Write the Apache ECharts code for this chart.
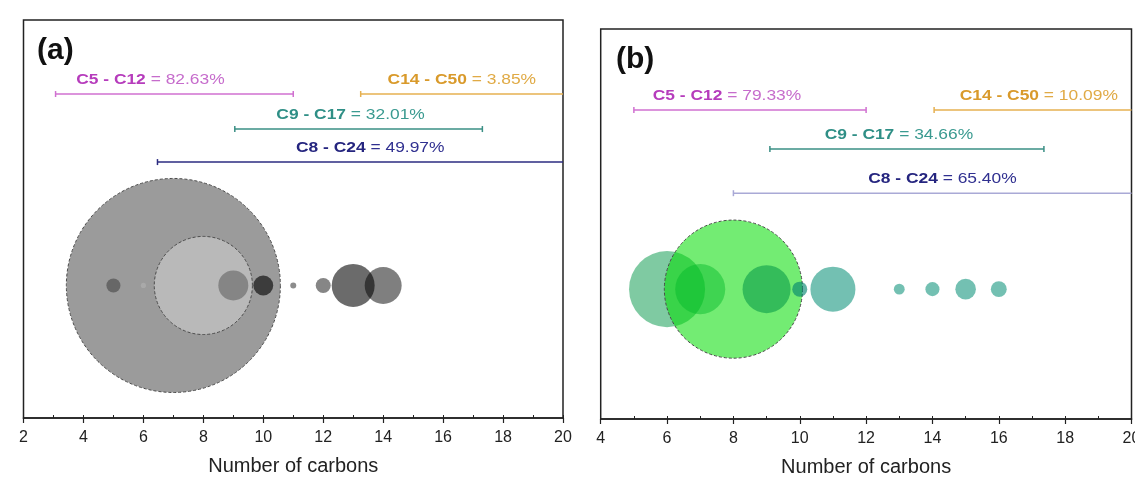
<!DOCTYPE html>
<html><head><meta charset="utf-8">
<script src="https://cdn.jsdelivr.net/npm/echarts@6/dist/echarts.min.js"></script>
<style>html,body{margin:0;padding:0;background:#fff;overflow:hidden}#c{width:1135px;height:479px}</style>
</head><body><div id="c"></div>
<script>
// ---------- DATA ----------
// Panel (a): bubble positions (carbon number) and bubble values (area-proportional)
const carbonsA = [5, 6, 7, 8, 9, 10, 11, 12, 13, 14];
const valuesA  = [0.22, 0.03, 50.9, 10.7, 1.00, 0.44, 0.04, 0.25, 2.05, 1.52];
// Panel (b)
const carbonsB = [6, 7, 8, 9, 10, 11, 13, 14, 15, 16];
const valuesB  = [6.42, 2.78, 21.2, 2.56, 0.25, 2.25, 0.13, 0.22, 0.47, 0.28];

// Carbon-range bars
const rangeNames  = ['C5 - C12', 'C14 - C50', 'C9 - C17', 'C8 - C24'];
const rangePctA   = ['82.63%', '3.85%', '32.01%', '49.97%'];
const rangeStartA = [3.07, 13.25, 9.05, 6.47];
const rangeEndA   = [11, 50, 17.31, 24];
const rangePctB   = ['79.33%', '10.09%', '34.66%', '65.40%'];
const rangeStartB = [5, 14.05, 9.1, 8];
const rangeEndB   = [12, 50, 17.36, 24];

// Tick labels
const ticksA = [2, 4, 6, 8, 10, 12, 14, 16, 18, 20];
const ticksB = [4, 6, 8, 10, 12, 14, 16, 18, 20];

// ---------- STYLES / LAYOUT ----------
const colorsA = ['#676767', '#a9a9a9', '#9b9b9b', '#b9b9b9', '#858585', '#3c3c3c', '#8c8c8c', '#868686', 'rgba(0,0,0,0.58)', 'rgba(0,0,0,0.5)'];
const layerA  = [2, 2, 0, 1, 2, 2, 2, 2, 2, 2];
const outlineA = [false, false, true, true, false, false, false, false, false, false];
const colorsB = ['rgba(0,150,70,0.5)', 'rgba(0,185,40,0.45)', 'rgba(0,220,0,0.55)', 'rgba(0,150,70,0.55)',
                 'rgba(0,130,110,0.62)', 'rgba(0,140,115,0.55)', 'rgba(0,140,115,0.55)', 'rgba(0,140,115,0.55)',
                 'rgba(0,140,115,0.55)', 'rgba(0,140,115,0.55)'];
const layerB  = [0, 2, 1, 2, 2, 2, 2, 2, 2, 2];
const outlineB = [false, false, true, false, false, false, false, false, false, false];

const BUBBLE_Y = 33.3;
const SIZE_K = 30;
const FONT = "'Liberation Sans', Arial, sans-serif";

const rangeStyle = [
  {bold: '#b63cbc', normal: '#c66ccc', line: '#d070d0'},
  {bold: '#d99a2b', normal: '#e0aa45', line: '#e6b050'},
  {bold: '#2f8f86', normal: '#3a9a90', line: '#3a8f85'},
  {bold: '#25257f', normal: '#303090', line: '#2b2b80'}
];
const lineColorB = ['#d070d0', '#e6b050', '#3a8f85', '#a9a9d6'];
const levelsA = [81.4, 81.4, 72.6, 64.3];
const levelsB = [79.2, 79.2, 69.2, 57.9];
const labelDxA = [-24, 0, -8, 10];
const labelDxB = [-23, 6, -8, 10];

// ---------- BUILD ----------
function bubbleSeries(gi, carbons, values, colors, layers, outline) {
  const out = [];
  const ls = Array.from(new Set(layers)).sort((a, b) => a - b);
  ls.forEach(L => {
    const data = [];
    carbons.forEach((c, i) => {
      if (layers[i] !== L) return;
      data.push({
        value: [c, BUBBLE_Y, values[i]],
        itemStyle: outline[i]
          ? {color: colors[i], opacity: 1, borderColor: '#4a4a4a', borderWidth: 1, borderType: [3, 2]}
          : {color: colors[i], opacity: 1, borderWidth: 0}
      });
    });
    out.push({
      type: 'scatter', xAxisIndex: gi * 2, yAxisIndex: gi, z: 2 + L,
      symbolSize: v => SIZE_K * Math.sqrt(v[2]),
      itemStyle: {opacity: 1},
      data, silent: true, animation: false
    });
  });
  return out;
}

function rangeSeries(gi, starts, ends, pcts, levels, dxs, lineColors, xMax) {
  const data = starts.map((s, i) => [s, ends[i], levels[i], i]);
  return {
    type: 'custom', xAxisIndex: gi * 2, yAxisIndex: gi, z: 10, animation: false, silent: true,
    data,
    renderItem: (params, api) => {
      const i = api.value(3);
      const y = api.value(2);
      const s = api.value(0), e = api.value(1);
      const p0 = api.coord([s, y]);
      const p1 = api.coord([Math.min(e, xMax), y]);
      const st = rangeStyle[i];
      const lc = lineColors[i];
      const children = [
        {type: 'line', shape: {x1: p0[0], y1: p0[1], x2: p1[0], y2: p1[1]}, style: {stroke: lc, lineWidth: 1.5}},
        {type: 'line', shape: {x1: p0[0], y1: p0[1] - 3, x2: p0[0], y2: p0[1] + 3}, style: {stroke: lc, lineWidth: 1.5}}
      ];
      if (e <= xMax) children.push({type: 'line', shape: {x1: p1[0], y1: p1[1] - 3, x2: p1[0], y2: p1[1] + 3}, style: {stroke: lc, lineWidth: 1.5}});
      const cx = (p0[0] + p1[0]) / 2 + dxs[i];
      children.push({
        type: 'text',
        x: cx, y: p0[1] - 14, scaleX: 1.2, scaleY: 1,
        style: {
          x: 0, y: 0, align: 'center', verticalAlign: 'middle',
          text: '{b|' + rangeNames[i] + '}{n| = ' + pcts[i] + '}',
          rich: {
            b: {fill: st.bold, fontWeight: 'bold', fontSize: 14.5, fontFamily: FONT},
            n: {fill: st.normal, fontSize: 14.5, fontFamily: FONT}
          }
        }
      });
      return {type: 'group', children};
    }
  };
}

function xAxes(gi, ticks) {
  const min = ticks[0], max = ticks[ticks.length - 1], interval = ticks[1] - ticks[0];
  return [
    {
      type: 'value', gridIndex: gi, min, max, interval,
      name: 'Number of carbons', nameLocation: 'middle', nameGap: 38,
      nameTextStyle: {fontSize: 20, color: '#222', fontFamily: FONT},
      axisLine: {show: true, onZero: false, lineStyle: {color: '#222', width: 1.5}},
      axisTick: {show: true, inside: false, length: 5, lineStyle: {color: '#222', width: 1.2}},
      axisLabel: {fontSize: 16, color: '#222', margin: 12, fontFamily: FONT, showMaxLabel: true, showMinLabel: true, hideOverlap: false},
      splitLine: {show: false}
    },
    {
      type: 'value', gridIndex: gi, min, max, interval: 1, position: 'bottom',
      axisLine: {show: false}, axisLabel: {show: false}, splitLine: {show: false},
      axisTick: {show: true, inside: true, length: 3, lineStyle: {color: '#222', width: 1}}
    }
  ];
}

const option = {
  backgroundColor: '#fff',
  animation: false,
  title: [
    {text: '(a)', left: 32, top: 31, textStyle: {fontSize: 30, fontWeight: 'bold', color: '#111', fontFamily: FONT}},
    {text: '(b)', left: 611, top: 40, textStyle: {fontSize: 30, fontWeight: 'bold', color: '#111', fontFamily: FONT}}
  ],
  grid: [
    {left: 23.5, right: 572, top: 20, bottom: 61, show: true, borderColor: '#222', borderWidth: 1.5, backgroundColor: 'transparent', outerBoundsMode: 'none', containLabel: false},
    {left: 600.7, right: 3.5, top: 29, bottom: 60, show: true, borderColor: '#222', borderWidth: 1.5, backgroundColor: 'transparent', outerBoundsMode: 'none', containLabel: false}
  ],
  xAxis: [...xAxes(0, ticksA), ...xAxes(1, ticksB)],
  yAxis: [
    {type: 'value', gridIndex: 0, min: 0, max: 100, show: false},
    {type: 'value', gridIndex: 1, min: 0, max: 100, show: false}
  ],
  series: [
    ...bubbleSeries(0, carbonsA, valuesA, colorsA, layerA, outlineA),
    ...bubbleSeries(1, carbonsB, valuesB, colorsB, layerB, outlineB),
    rangeSeries(0, rangeStartA, rangeEndA, rangePctA, levelsA, labelDxA, rangeStyle.map(r => r.line), ticksA[ticksA.length - 1]),
    rangeSeries(1, rangeStartB, rangeEndB, rangePctB, levelsB, labelDxB, lineColorB, ticksB[ticksB.length - 1])
  ]
};

const chart = echarts.init(document.getElementById('c'), null, {renderer: 'canvas'});
chart.setOption(option);
</script>
</body></html>
